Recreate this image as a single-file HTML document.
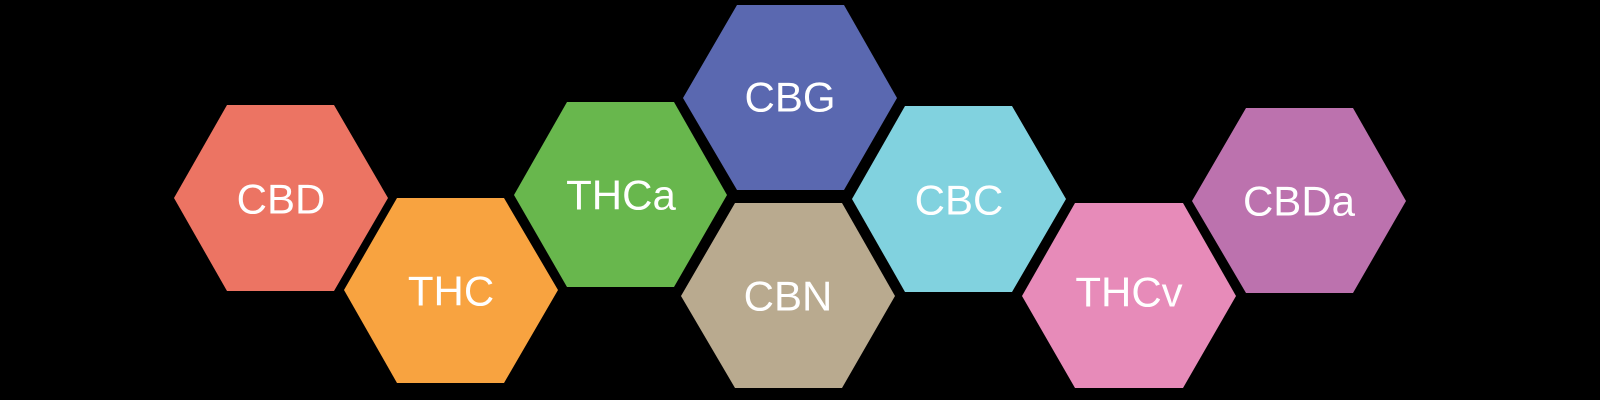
<!DOCTYPE html>
<html><head><meta charset="utf-8"><style>
html,body{margin:0;padding:0;background:#000;}
svg{display:block}
text{font-family:"Liberation Sans",sans-serif;font-size:42px;fill:#fff;text-anchor:middle;dominant-baseline:central}
</style></head><body>
<svg width="1600" height="400" viewBox="0 0 1600 400">
<rect width="1600" height="400" fill="#000"/>
<polygon points="174,198 227,105 334,105 388,198 334,291 227,291" fill="#ec7463"/>
<text x="281" y="199">CBD</text>
<polygon points="344,290 397,198 504,198 558,290 504,383 397,383" fill="#f8a340"/>
<text x="451" y="291">THC</text>
<polygon points="514,195 567,102 674,102 727,195 674,287 567,287" fill="#68b74d"/>
<text x="621" y="195">THCa</text>
<polygon points="683,98 737,5 844,5 897,98 844,190 737,190" fill="#5a68b0"/>
<text x="790" y="97">CBG</text>
<polygon points="681,296 735,203 842,203 895,296 842,388 735,388" fill="#b9aa8f"/>
<text x="788" y="296">CBN</text>
<polygon points="852,199 905,106 1012,106 1066,199 1012,292 905,292" fill="#81d2df"/>
<text x="959" y="200">CBC</text>
<polygon points="1022,296 1075,203 1183,203 1236,296 1183,388 1075,388" fill="#e78bb9"/>
<text x="1129" y="292">THCv</text>
<polygon points="1192,201 1246,108 1353,108 1406,201 1353,293 1246,293" fill="#bc72ae"/>
<text x="1299" y="201">CBDa</text>
</svg>
</body></html>
